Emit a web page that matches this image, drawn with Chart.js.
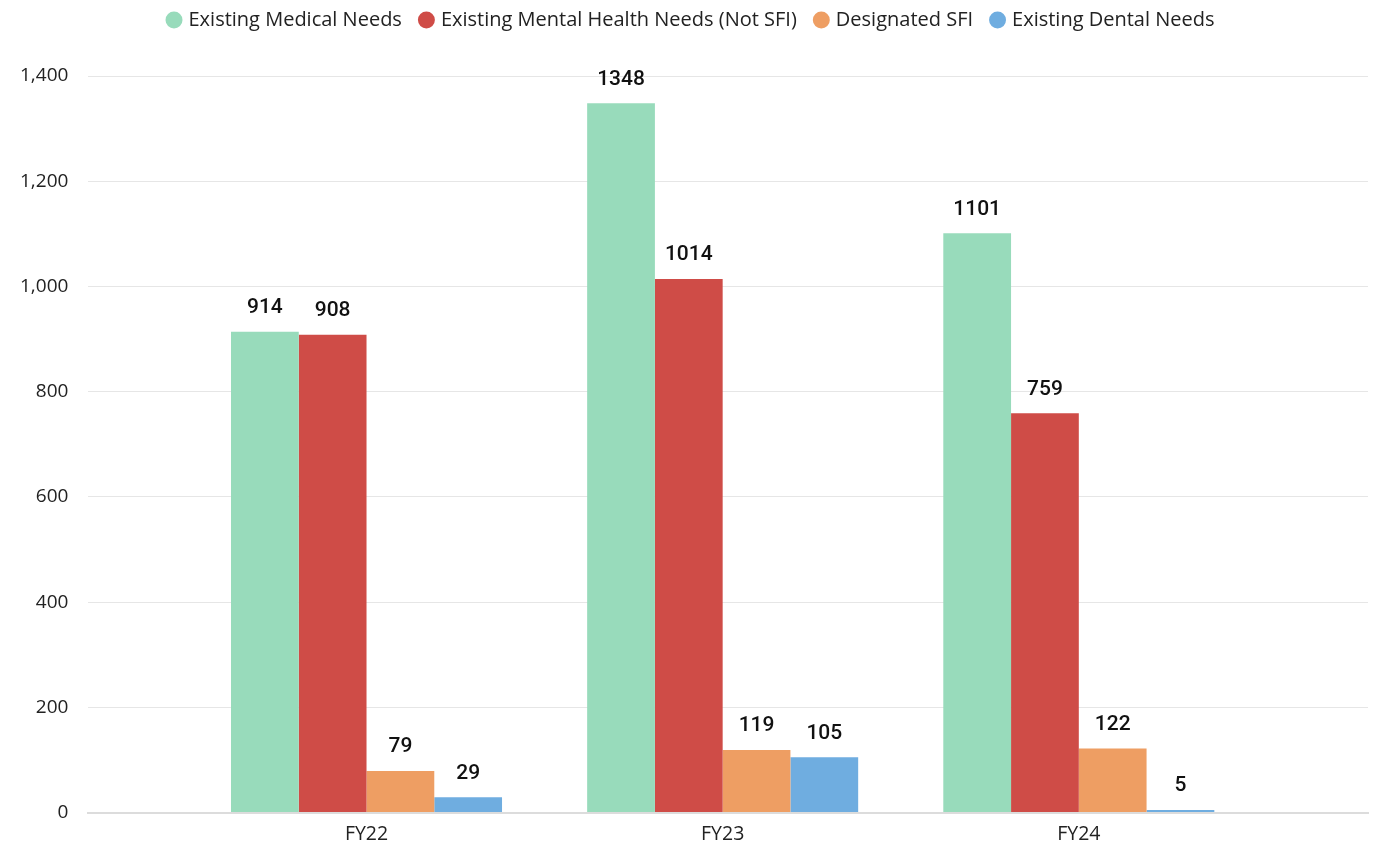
<!DOCTYPE html>
<html>
<head>
<meta charset="utf-8">
<script src="https://cdn.jsdelivr.net/npm/chart.js@4.4.0/dist/chart.umd.min.js"></script>
<style>
  html, body { margin: 0; padding: 0; background: #fff; }
  #wrap { width: 1377px; height: 848px; }
</style>
</head>
<body>
<div id="wrap"><canvas id="needs" width="1377" height="848"></canvas></div>
<script>
const categories = ['FY22', 'FY23', 'FY24'];
const medical = [914, 1348, 1101];
const mentalHealth = [908, 1014, 759];
const designatedSfi = [79, 119, 122];
const dental = [29, 105, 5];

const seriesNames = ['Existing Medical Needs', 'Existing Mental Health Needs (Not SFI)', 'Designated SFI', 'Existing Dental Needs'];
const seriesColors = ['#98dbbb', '#cf4c47', '#ee9e63', '#6fade0'];

function toPoints(values) {
    return values.map(function (v, i) { return { x: i, y: v }; });
}

// numbers above the bars
const valueLabels = {
    id: 'valueLabels',
    afterDatasetsDraw(chart) {
        const ctx = chart.ctx;
        ctx.save();
        ctx.font = '500 21px Roboto';
        ctx.fillStyle = '#111';
        ctx.textAlign = 'center';
        ctx.textBaseline = 'middle';
        chart.data.datasets.forEach(function (ds, di) {
            chart.getDatasetMeta(di).data.forEach(function (bar, i) {
                ctx.fillText(String(ds.data[i].y), bar.x, bar.y - 24);
            });
        });
        ctx.restore();
    }
};

// extra room under the legend, legend nudged right a little
const legendGap = {
    id: 'legendGap',
    beforeInit(chart) {
        const fit = chart.legend.fit;
        chart.legend.fit = function () {
            fit.bind(chart.legend)();
            this.height += 36;
        };
    },
    afterLayout(chart) {
        chart.legend.left += 8;
        chart.legend.right += 8;
    }
};

const allSeries = [medical, mentalHealth, designatedSfi, dental];

new Chart(document.getElementById('needs').getContext('2d'), {
    type: 'bar',
    data: {
        datasets: allSeries.map(function (vals, i) {
            return {
                label: seriesNames[i],
                data: toPoints(vals),
                backgroundColor: seriesColors[i],
                borderWidth: 0,
                barPercentage: 1,
                categoryPercentage: 0.761
            };
        })
    },
    options: {
        responsive: false,
        animation: false,
        layout: { padding: { left: 0, right: 9, top: -10, bottom: -8 } },
        plugins: {
            legend: {
                position: 'top',
                labels: {
                    usePointStyle: true,
                    pointStyle: 'circle',
                    boxWidth: 9,
                    boxHeight: 12,
                    padding: 20,
                    color: '#222',
                    font: { family: 'Open Sans', size: 20 }
                }
            },
            tooltip: { enabled: false }
        },
        scales: {
            x: {
                type: 'linear',
                offset: false,
                min: -0.781,
                max: 2.812,
                grid: { display: false, drawTicks: false },
                border: { color: '#dcdcdc', width: 2 },
                ticks: {
                    stepSize: 1,
                    includeBounds: false,
                    color: '#222',
                    font: { family: 'Open Sans', size: 19.5 },
                    padding: 10,
                    callback: function (v) { return categories[v] || ''; }
                }
            },
            y: {
                min: 0,
                max: 1400,
                grid: { color: '#e6e6e6', drawTicks: false },
                border: { display: false },
                ticks: {
                    stepSize: 200,
                    color: '#222',
                    padding: 20,
                    font: { family: 'Open Sans', size: 19 },
                    callback: function (v) { return v.toLocaleString('en-US'); }
                }
            }
        }
    },
    plugins: [valueLabels, legendGap]
});
</script>
</body>
</html>
